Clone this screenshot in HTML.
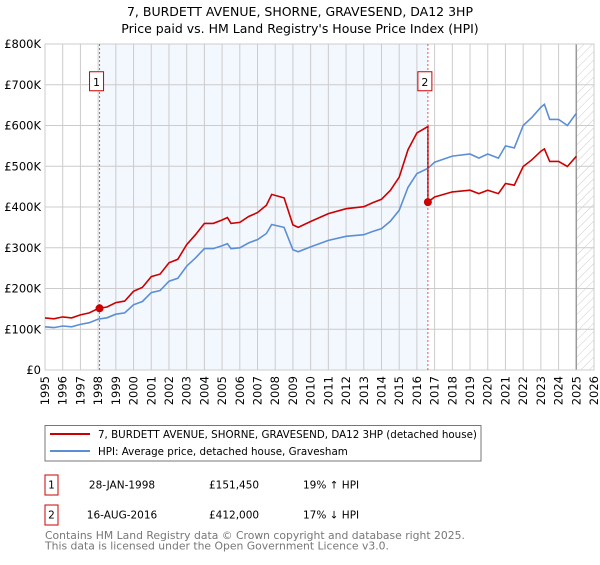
<!DOCTYPE html>
<html><head><meta charset="utf-8"><style>
body{margin:0;background:#fff;font-family:"Liberation Sans","DejaVu Sans",sans-serif;}
svg text{font-family:"DejaVu Sans","Liberation Sans",sans-serif;}
</style></head><body>
<svg id="c" width="600" height="560" viewBox="0 0 600 560" xmlns="http://www.w3.org/2000/svg">
<defs><pattern id="hatch" width="6" height="6" patternUnits="userSpaceOnUse" patternTransform="rotate(45)"><line x1="0" y1="0" x2="0" y2="6" stroke="#ccc" stroke-width="1"/></pattern></defs>
<text x="300" y="16" text-anchor="middle" font-size="12.5" fill="#000">7, BURDETT AVENUE, SHORNE, GRAVESEND, DA12 3HP</text>
<text x="300" y="33" text-anchor="middle" font-size="12.5" fill="#000">Price paid vs. HM Land Registry's House Price Index (HPI)</text>
<g id="plot"></g>
<rect x="45" y="425.5" width="436" height="35.5" fill="#fff" stroke="#777"/>
<line x1="50" y1="434" x2="90" y2="434" stroke="#cc0000" stroke-width="2"/>
<text x="98" y="438" font-size="10.3">7, BURDETT AVENUE, SHORNE, GRAVESEND, DA12 3HP (detached house)</text>
<line x1="50" y1="451" x2="90" y2="451" stroke="#5b8fd4" stroke-width="2"/>
<text x="98" y="455" font-size="10.3">HPI: Average price, detached house, Gravesham</text>
<rect x="45" y="475" width="13" height="20" fill="#fff" stroke="#cc0000"/>
<text x="51.5" y="488.5" font-size="10.5" text-anchor="middle">1</text>
<text x="122" y="488.5" font-size="10.5" text-anchor="middle">28-JAN-1998</text>
<text x="209" y="488.5" font-size="10.5">£151,450</text>
<text x="303" y="488.5" font-size="10.5">19% ↑ HPI</text>
<rect x="45" y="505" width="13" height="20" fill="#fff" stroke="#cc0000"/>
<text x="51.5" y="518.5" font-size="10.5" text-anchor="middle">2</text>
<text x="122" y="518.5" font-size="10.5" text-anchor="middle">16-AUG-2016</text>
<text x="209" y="518.5" font-size="10.5">£412,000</text>
<text x="303" y="518.5" font-size="10.5">17% ↓ HPI</text>
<text x="45" y="539" font-size="10.8" fill="#777">Contains HM Land Registry data © Crown copyright and database right 2025.</text>
<text x="45" y="549.5" font-size="10.8" fill="#777">This data is licensed under the Open Government Licence v3.0.</text>
</svg>
<script>
const hpiYears=[1995,1995.5,1996,1996.5,1997,1997.5,1998,1998.5,1999,1999.5,2000,2000.5,2001,2001.5,2002,2002.5,2003,2003.5,2004,2004.5,2005,2005.3,2005.5,2006,2006.5,2007,2007.5,2007.8,2008.5,2009,2009.3,2010,2011,2012,2013,2013.5,2014,2014.5,2015,2015.5,2016,2016.62,2017,2018,2019,2019.5,2020,2020.6,2021,2021.5,2022,2022.5,2023,2023.2,2023.5,2024,2024.5,2025];
const hpiValues=[106000,104000,108000,106000,112000,116000,125000,128000,137000,140000,160000,168000,190000,195000,218000,225000,255000,275000,298000,298000,305000,310000,298000,300000,312000,320000,335000,357000,350000,295000,290000,302000,318000,328000,332000,340000,347000,365000,392000,448000,482000,495000,510000,525000,530000,520000,530000,520000,550000,545000,600000,620000,645000,652000,615000,615000,600000,630000];
const saleDates=[1998.08,2016.62];
const salePrices=[151450,412000];
const yTicks=[0,100000,200000,300000,400000,500000,600000,700000,800000];
const yTickLabels=["£0","£100K","£200K","£300K","£400K","£500K","£600K","£700K","£800K"];
const xTicks=[1995,1996,1997,1998,1999,2000,2001,2002,2003,2004,2005,2006,2007,2008,2009,2010,2011,2012,2013,2014,2015,2016,2017,2018,2019,2020,2021,2022,2023,2024,2025,2026];
const NS="http://www.w3.org/2000/svg";
const X0=45,X1=594,Y0=370,Y1=44;
const sx=y=>X0+(y-1995)/(2026-1995)*(X1-X0);
const sy=v=>Y0-v/800000*(Y0-Y1);
const g=document.getElementById('plot');
function mk(t,a){const e=document.createElementNS(NS,t);for(const k in a)e.setAttribute(k,a[k]);g.appendChild(e);return e;}
function hpiAt(t){for(let i=1;i<hpiYears.length;i++){if(t<=hpiYears[i]){const f=(t-hpiYears[i-1])/(hpiYears[i]-hpiYears[i-1]);return hpiValues[i-1]+f*(hpiValues[i]-hpiValues[i-1]);}}return hpiValues[hpiValues.length-1];}
let e=mk('rect',{x:sx(saleDates[0]),y:Y1,width:sx(saleDates[1])-sx(saleDates[0]),height:Y0-Y1,fill:'#eef3fd',opacity:0.7});


e=mk('rect',{x:sx(2025),y:Y1,width:X1-sx(2025),height:Y0-Y1,fill:'url(#hatch)'});


yTicks.forEach((v,i)=>{
 const l=mk('line',{x1:X0,x2:X1,y1:sy(v),y2:sy(v),stroke:'#ccc','stroke-width':1});
 
 
 const t=mk('text',{x:X0-4,y:sy(v)+4,'text-anchor':'end','font-size':11.5});
 t.textContent=yTickLabels[i];
 
 
});
xTicks.forEach(y=>{
 const l=mk('line',{x1:sx(y),x2:sx(y),y1:Y1,y2:Y0,stroke:'#ccc','stroke-width':1});
 
 
 const t=mk('text',{x:0,y:0,'font-size':11.5,'text-anchor':'end',transform:`translate(${sx(y)+4},${Y0+6}) rotate(-90)`});
 t.textContent=y;
 
 
});
e=mk('line',{x1:sx(2025),x2:sx(2025),y1:Y1,y2:Y0,stroke:'#999','stroke-width':1.5});


e=mk('rect',{x:X0,y:Y1,width:X1-X0,height:Y0-Y1,fill:'none',stroke:'#ccc'});


const hp=hpiYears.map((y,i)=>sx(y).toFixed(1)+','+sy(hpiValues[i]).toFixed(1)).join(' ');
e=mk('polyline',{points:hp,fill:'none',stroke:'#5b8fd4','stroke-width':1.6});


const r1=salePrices[0]/hpiAt(saleDates[0]), r2=salePrices[1]/hpiAt(saleDates[1]);
const pts=[];
hpiYears.forEach((y,i)=>{ if(y<saleDates[1]) pts.push([y,hpiValues[i]*r1]); });
pts.push([saleDates[1],hpiAt(saleDates[1])*r1]);
pts.push([saleDates[1],salePrices[1]]);
hpiYears.forEach((y,i)=>{ if(y>saleDates[1]) pts.push([y,hpiValues[i]*r2]); });
e=mk('polyline',{points:pts.map(p=>sx(p[0]).toFixed(1)+','+sy(p[1]).toFixed(1)).join(' '),fill:'none',stroke:'#cc0000','stroke-width':1.6});


saleDates.forEach((d,i)=>{
 const l=mk('line',{x1:sx(d),x2:sx(d),y1:Y1,y2:Y0,stroke:'#e05555','stroke-width':1,'stroke-dasharray':'2,2'});
 
 
 const p=mk('circle',{cx:sx(d),cy:sy(salePrices[i]),r:4,fill:'#cc0000'});
 
 
 const b=mk('rect',{x:sx(d)-10,y:sy(700000)-13,width:14,height:19,fill:'#fff',stroke:'#cc0000'});
 
 
 const t=mk('text',{x:sx(d)-3,y:sy(700000)+1,'font-size':11,'text-anchor':'middle'});
 t.textContent=String(i+1);
 
 
});
</script>
</body></html>
